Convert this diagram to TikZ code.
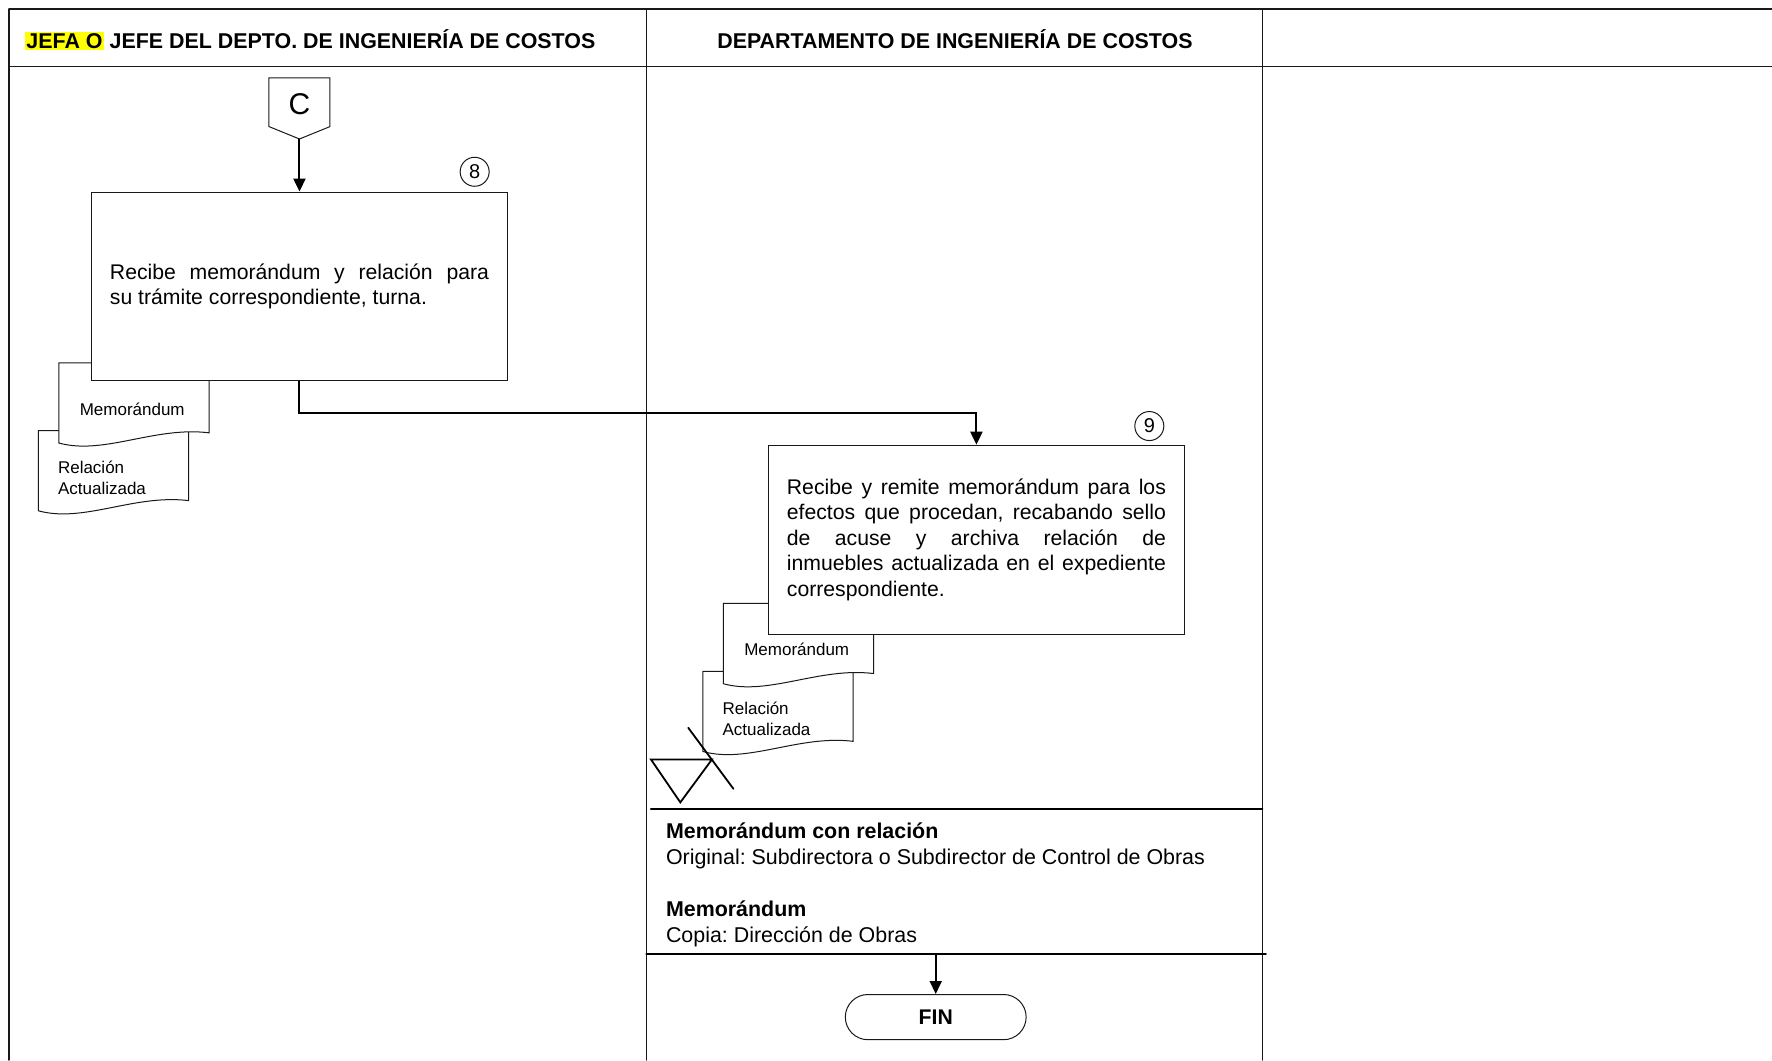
\documentclass[tikz,border=0pt]{standalone}
\usepackage{fontspec}
\setmainfont{Liberation Sans}
\usepackage{tikz}
\usetikzlibrary{arrows.meta, positioning, calc}
\definecolor{resalte}{RGB}{255,255,0}
\definecolor{trazo}{RGB}{25,25,25}
\setlength{\fboxsep}{0.6pt}
\frenchspacing

\newcommand{\documento}[2]{%
  \begin{scope}[shift={(#1,#2)}]
    \filldraw [fill=white, draw=trazo, line width=0.5pt] (0,0) -- (0,71)
      .. controls (40,82) and (85,56) .. (133,62) -- (133,0) -- cycle;
  \end{scope}}

\begin{document}
\begin{tikzpicture}[x=0.565pt, y=-0.565pt, line cap=round,
    marco/.style={draw=trazo, line width=0.7pt},
    separador/.style={draw=black, line width=1.1pt},
    proceso/.style={draw=trazo, fill=white, line width=0.5pt, inner sep=0pt,
      minimum width=208pt, minimum height=94.4pt, text width=189.5pt,
      align=justify, font=\fontsize{10.6}{12.7}\selectfont},
    numero/.style={draw=trazo, circle, line width=0.5pt, minimum size=14.5pt,
      inner sep=0pt, font=\fontsize{10}{12}\selectfont},
    doctxt/.style={inner sep=0pt, align=left, font=\fontsize{8.5}{10.3}\selectfont},
    flecha/.style={draw=black, line width=1pt, -{Triangle[length=6.5pt, width=6pt]}},
    terminal/.style={draw=trazo, line width=0.5pt, rounded corners=11.3pt,
      minimum width=90.4pt, minimum height=22.6pt, font=\bfseries\fontsize{10.6}{12}\selectfont}]
        \useasboundingbox (0,0) rectangle (1568,938);
        %\draw [step=50, very thin, lightgray] (0,0) grid (1568,938);
        \draw [marco] (8,8) -- (1568,8);
        \draw [marco] (8,59) -- (1568,59);
        \draw [marco] (8,8) -- (8,938);
        \draw [marco] (572,8) -- (572,938);
        \draw [marco] (1117,8) -- (1117,938);
        \node [anchor=west, inner sep=0pt, font=\bfseries\fontsize{10.7}{12}\selectfont] (jefe) at (22,35)
          {\colorbox{resalte}{JEFA O} JEFE DEL DEPTO. DE INGENIERÍA DE COSTOS};
        \node [inner sep=0pt, font=\bfseries\fontsize{10.7}{12}\selectfont] (depto) at (845,35)
          {DEPARTAMENTO DE INGENIERÍA DE COSTOS};

        \draw [draw=trazo, line width=0.5pt] (238,69) -- (292,69) -- (292,112) -- (265,123) -- (238,112) -- cycle;
        \node [font=\fontsize{15}{18}\selectfont] (letraC) at (265,92) {C};
        \coordinate (puntaC) at (265,123);

        \documento{34}{381}
        \node [doctxt, anchor=west] (rel1) at (51,423) {Relación\\Actualizada};
        \documento{52}{321}
        \node [doctxt] (memo1) at (117,362) {Memorándum};
        \node [proceso] (caja8) at (265,253.5)
          {Recibe memorándum y relación para\linebreak su trámite correspondiente, turna.};
        \node [numero] (num8) at (420,152) {8};

        \documento{622}{594}
        \node [doctxt, anchor=west] (rel2) at (639,636) {Relación\\Actualizada};
        \documento{640}{534}
        \node [doctxt] (memo2) at (705,575) {Memorándum};
        \node [proceso] (caja9) at (864,477.5)
          {Recibe y remite memorándum para los\linebreak efectos que procedan, recabando sello\linebreak de acuse y archiva relación de\linebreak inmuebles actualizada en el expediente\linebreak correspondiente.};
        \node [numero] (num9) at (1017,377) {9};

        \draw [draw=black, line width=0.9pt] (576,672) -- (630,672) -- (602,710) -- cycle;
        \draw [draw=black, line width=0.9pt] (609,644) -- (649,698);

        \draw [separador] (576,716) -- (1117,716);
        \node [anchor=west, inner sep=0pt, align=left, font=\fontsize{10.7}{13}\selectfont] (copias) at (589,783)
          {\textbf{Memorándum con relación}\\Original: Subdirectora o Subdirector de Control de Obras\\[13pt]
           \textbf{Memorándum}\\Copia: Dirección de Obras};
        \draw [separador] (572,844) -- (1120,844);
        \coordinate (salida) at (828,844);
        \node [terminal] (fin) at (828,900) {FIN};

        \draw [flecha] (puntaC) -- (caja8);
        \draw [flecha] (caja8.south) -- ++(0,28) -| (caja9.north);
        \draw [flecha] (salida) -- (fin);
    \end{tikzpicture}
\end{document}
